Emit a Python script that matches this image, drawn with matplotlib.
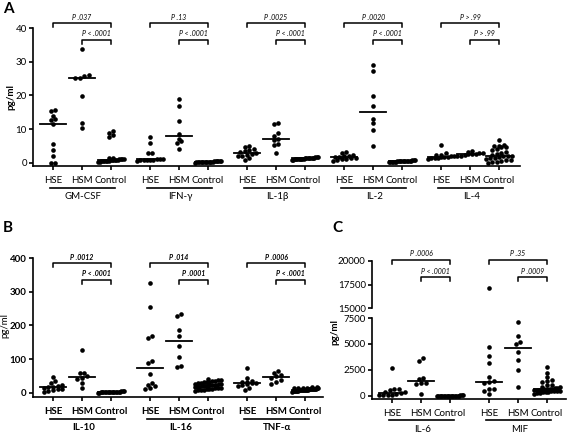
import numpy as np
import matplotlib
matplotlib.use('Agg')
import matplotlib.pyplot as plt
import matplotlib.transforms as mtransforms

plt.rcParams['font.family'] = ['Lato', 'DejaVu Sans']

W, H = 567, 433

sub_labels = ['HSE', 'HSM', 'Control']

# ---------------- Panel A (pg/ml) ----------------
a_groups = ['GM-CSF', 'IFN-γ', 'IL-1β', 'IL-2', 'IL-4']
gmcsf_hse = [15.8, 15.3, 14.0, 13.0, 12.6, 11.4, 5.6, 3.8, 2.0, 0.0, 0.0]
gmcsf_hsm = [33.8, 26.0, 25.7, 25.3, 25.2, 19.8, 11.8, 10.5]
gmcsf_ctrl = [9.6, 9.0, 8.2, 7.8, 1.6, 1.4, 1.3, 1.2, 1.2, 1.1, 1.0, 1.0, 0.9,
              0.9, 0.8, 0.8, 0.7, 0.7, 0.6, 0.6, 0.5, 0.5, 0.4, 0.3]
ifng_hse = [7.6, 5.9, 3.0, 2.9, 1.3, 1.2, 1.1, 1.0, 1.0, 0.9, 0.9, 0.8, 0.7]
ifng_hsm = [19.0, 17.0, 12.4, 8.6, 7.1, 6.6, 5.8, 4.2]
ifng_ctrl = [0.7, 0.6, 0.6, 0.5, 0.5, 0.5, 0.4, 0.4, 0.4, 0.4, 0.3, 0.3, 0.3,
             0.3, 0.3, 0.2, 0.2, 0.2, 0.2, 0.1]
il1b_hse = [5.0, 4.7, 4.2, 3.9, 3.6, 3.3, 3.0, 2.8, 2.5, 2.2, 2.0, 1.6, 0.8]
il1b_hsm = [11.7, 11.6, 8.8, 7.9, 7.0, 6.8, 5.5, 5.3, 2.9]
il1b_ctrl = [1.9, 1.8, 1.7, 1.6, 1.6, 1.5, 1.5, 1.5, 1.4, 1.4, 1.4, 1.3, 1.3,
             1.3, 1.2, 1.2, 1.2, 1.1, 1.1, 1.0, 0.9]
il2_hse = [3.3, 2.9, 2.5, 2.2, 2.0, 1.9, 1.8, 1.6, 1.5, 1.3, 1.2, 0.9, 0.7]
il2_hsm = [28.9, 27.2, 19.8, 17.0, 13.1, 11.7, 9.9, 4.9]
il2_ctrl = [0.9, 0.8, 0.8, 0.7, 0.7, 0.7, 0.6, 0.6, 0.6, 0.6, 0.5, 0.5, 0.5,
            0.5, 0.4, 0.4, 0.4, 0.3, 0.3, 0.3]
il4_hse = [5.2, 2.9, 2.5, 2.3, 2.2, 2.0, 1.9, 1.8, 1.7, 1.6, 1.5, 1.4, 1.2]
il4_hsm = [3.4, 3.2, 3.0, 2.9, 2.8, 2.7, 2.6, 2.5, 2.2, 2.0]
il4_ctrl = [6.9, 5.2, 5.1, 4.9, 4.8, 4.6, 4.2, 3.8, 3.2, 3.0, 2.6, 2.4, 2.2,
            2.0, 2.0, 1.8, 1.6, 1.5, 1.2, 1.0, 0.8, 0.6, 0.4, 0.2, 0.0]
a_p_all = ['P .037', 'P .13', 'P .0025', 'P .0020', 'P > .99']
a_p_hsm = ['P < .0001', 'P < .0001', 'P < .0001', 'P < .0001', 'P > .99']

# ---------------- Panel B (pg/ml) ----------------
b_groups = ['IL-10', 'IL-16', 'TNF-α']
il10_hse = [47, 35, 30, 24, 21, 19, 17, 15, 13, 11, 9, 7, 4]
il10_hsm = [128, 60, 58, 50, 45, 42, 30, 15]
il10_ctrl = [6, 5, 5, 4, 4, 4, 4, 3, 3, 3, 3, 3, 3, 2, 2, 2, 2, 2, 1, 1]
il16_hse = [325, 256, 170, 163, 95, 90, 57, 30, 25, 20, 15, 12]
il16_hsm = [234, 228, 188, 170, 140, 108, 80, 77]
il16_ctrl = [41, 38, 37, 36, 34, 33, 32, 31, 30, 29, 28, 27, 26, 25, 25, 24,
             23, 22, 21, 20, 20, 19, 18, 17, 16, 15, 14, 13, 12, 11, 10, 9, 8, 6]
tnf_hse = [74, 44, 36, 33, 31, 30, 29, 27, 24, 20, 15, 8]
tnf_hsm = [64, 60, 53, 49, 45, 38, 33, 28]
tnf_ctrl = [18, 17, 16, 16, 15, 15, 14, 14, 13, 13, 12, 12, 12, 11, 11, 11,
            10, 10, 10, 10, 9, 9, 9, 8, 8, 8, 7, 7, 6, 6, 5, 5, 4]
b_p_all = ['P .0012', 'P .014', 'P .0006']
b_p_hsm = ['P < .0001', 'P .0001', 'P < .0001']

# ---------------- Panel C (pg/ml) ----------------
c_groups = ['IL-6', 'MIF']
il6_hse = [2650, 700, 650, 600, 400, 340, 300, 150, 100, 80, 60, 50]
il6_hsm = [3640, 3380, 1690, 1600, 1290, 1260, 1200, 160]
il6_ctrl = [80, 60, 50, 40, 30, 30, 20, 20, 20, 10, 10, 10, 5, 5, 5, 0, 0, 0, 0, 0]
mif_hse = [17100, 4700, 3800, 3200, 1850, 1400, 1300, 1250, 700, 650, 500, 150]
mif_hsm = [7110, 5740, 5200, 4980, 4240, 3450, 2490, 830]
mif_ctrl = [2750, 2250, 1850, 1550, 1400, 1300, 1100, 1050, 900, 850, 800, 750,
            700, 700, 650, 650, 600, 600, 550, 550, 500, 500, 450, 450, 400,
            400, 350, 300, 250, 200]
c_p_all = ['P .0006', 'P .35']
c_p_hsm = ['P < .0001', 'P .0009']

a_data = [[gmcsf_hse, gmcsf_hsm, gmcsf_ctrl], [ifng_hse, ifng_hsm, ifng_ctrl],
          [il1b_hse, il1b_hsm, il1b_ctrl], [il2_hse, il2_hsm, il2_ctrl],
          [il4_hse, il4_hsm, il4_ctrl]]
b_data = [[il10_hse, il10_hsm, il10_ctrl], [il16_hse, il16_hsm, il16_ctrl],
          [tnf_hse, tnf_hsm, tnf_ctrl]]
c_data = [[il6_hse, il6_hsm, il6_ctrl], [mif_hse, mif_hsm, mif_ctrl]]

GAP = 97 / 29.0
DOT = 4.6      # dot spacing in px
ROW = 3.6      # height of one swarm row in px
HALF = 13.0    # max half width of a swarm in px


def box(x0, y0, x1, y1):
    return [x0 / W, 1 - y1 / H, (x1 - x0) / W, (y1 - y0) / H]


def fy(ypx):
    return 1 - ypx / H


def swarm(ax, x0, vals):
    # GraphPad-like scatter: points binned in rows, each row spread and capped in width
    vals = np.asarray(vals, float)
    pts = ax.transData.transform(np.column_stack([np.full(len(vals), x0), vals]))
    order = list(np.argsort(pts[:, 1]))
    xs = pts[:, 0].copy()
    rows = []
    for k in order:
        if rows and pts[k, 1] - pts[rows[-1][0], 1] < ROW:
            rows[-1].append(k)
        else:
            rows.append([k])
    for r in rows:
        n = len(r)
        if n > 1:
            step = min(DOT, 2 * HALF / (n - 1))
            offs = (np.arange(n) - (n - 1) / 2) * step
            for k, o in zip(r, offs):
                xs[k] = pts[k, 0] + o
    return ax.transData.inverted().transform(np.column_stack([xs, pts[:, 1]]))[:, 0]


def style_axis(ax, bold=False):
    for s in ['top', 'right']:
        ax.spines[s].set_visible(False)
    for s in ['left', 'bottom']:
        ax.spines[s].set_linewidth(1.2)
    ax.tick_params(direction='out', length=3, width=1.2, labelsize=7, pad=1.5)
    if bold:
        for t in ax.get_yticklabels():
            t.set_fontweight('bold')


def scatter_group(ax, x, vals):
    xs = swarm(ax, x, vals)
    ax.scatter(xs, vals, s=11, color='black', linewidths=0, zorder=3, clip_on=False)


def draw_panel(ax, data, groups, p_all, p_hsm, y_line, y_name,
               y_br1, y_br2, bold=False, split=None):
    tr = mtransforms.blended_transform_factory(ax.transData, ax.figure.transFigure)
    ticks, labels = [], []
    for g, trio in enumerate(data):
        for i, vals in enumerate(trio):
            x = g * GAP + i
            ticks.append(x)
            labels.append(sub_labels[i])
            if split is None:
                scatter_group(ax, x, vals)
            else:
                lo = [v for v in vals if v <= split[1]]
                hi = [v for v in vals if v >= split[2]]
                scatter_group(ax, x, lo)
                if hi:
                    scatter_group(split[0], x, hi)
            med = np.median(vals)
            ax.plot([x - 0.45, x + 0.45], [med, med], color='black', lw=1.3, zorder=4)
        cx = g * GAP
        # group underline and name
        ax.plot([cx - 0.1, cx + 2.15], [fy(y_line)] * 2, color='black', lw=1.2,
                transform=tr, clip_on=False)
        ax.text(cx + 1.05, fy(y_name), groups[g], transform=tr, ha='center', va='center',
                fontsize=7, fontweight='bold' if bold else 'normal')
        # significance brackets
        drop = 4 / H
        for (xa, xb, ypx, txt) in [(cx, cx + 2, y_br1, p_all[g]), (cx + 1, cx + 2, y_br2, p_hsm[g])]:
            yb = fy(ypx)
            ax.plot([xa, xa, xb, xb], [yb - drop, yb, yb, yb - drop], color='black', lw=1.1,
                    transform=tr, clip_on=False)
            ax.text((xa + xb) / 2, yb + 2.5 / H, txt, transform=tr, ha='center', va='bottom',
                    fontsize=5, style='italic', fontweight='bold' if bold else 'normal')
    ax.set_xticks(ticks)
    ax.set_xticklabels(labels)
    for t in ax.get_xticklabels():
        t.set_fontweight('bold' if bold else 'normal')
        t.set_fontsize(7)
    ax.tick_params(axis='x', pad=4)


fig = plt.figure(figsize=(W / 100, H / 100), dpi=100)

# ---- A ----
axA = fig.add_axes(box(33, 28, 520, 166))
axA.set_xlim(-0.69, 16.1)
axA.set_ylim(-0.9, 40)
axA.set_yticks([0, 10, 20, 30, 40])
style_axis(axA)
draw_panel(axA, a_data, a_groups, a_p_all, a_p_hsm, 188, 196, 23, 40)
fig.text(3 / W, fy(9), 'A', fontsize=11, fontweight='bold', va='center')
fig.text(11 / W, fy(97), 'pg/ml', rotation=90, fontsize=7, fontweight='bold',
         ha='center', va='center')

# ---- B ----
axB = fig.add_axes(box(33, 258, 323, 397))
axB.set_xlim(-0.69, 9.31)
axB.set_ylim(-12, 400)
axB.set_yticks([0, 100, 200, 300, 400])
style_axis(axB, bold=True)
draw_panel(axB, b_data, b_groups, b_p_all, b_p_hsm, 419, 428, 263, 280, bold=True)
fig.text(3 / W, fy(228), 'B', fontsize=11, fontweight='bold', va='center')
fig.text(5 / W, fy(325), 'pg/ml', rotation=90, fontsize=7, ha='center', va='center')

# ---- C (broken axis) ----
axCu = fig.add_axes(box(372, 261, 566, 308))
axCu.set_xlim(-0.69, 6.0)
axCu.set_ylim(15000, 20000)
axCu.set_yticks([15000, 17500, 20000])
style_axis(axCu)
axCu.spines['bottom'].set_visible(False)
axCu.set_xticks([])

axC = fig.add_axes(box(372, 318, 566, 399))
axC.set_xlim(-0.69, 6.0)
axC.set_ylim(-290, 7500)
axC.set_yticks([0, 2500, 5000, 7500])
style_axis(axC)
draw_panel(axC, c_data, c_groups, c_p_all, c_p_hsm, 420, 429, 260, 277,
           split=(axCu, 7500, 15000))
fig.text(332 / W, fy(228), 'C', fontsize=11, fontweight='bold', va='center')
fig.text(335 / W, fy(332), 'pg/ml', rotation=90, fontsize=7, fontweight='bold',
         ha='center', va='center')

fig.savefig('out.png', dpi=100)
